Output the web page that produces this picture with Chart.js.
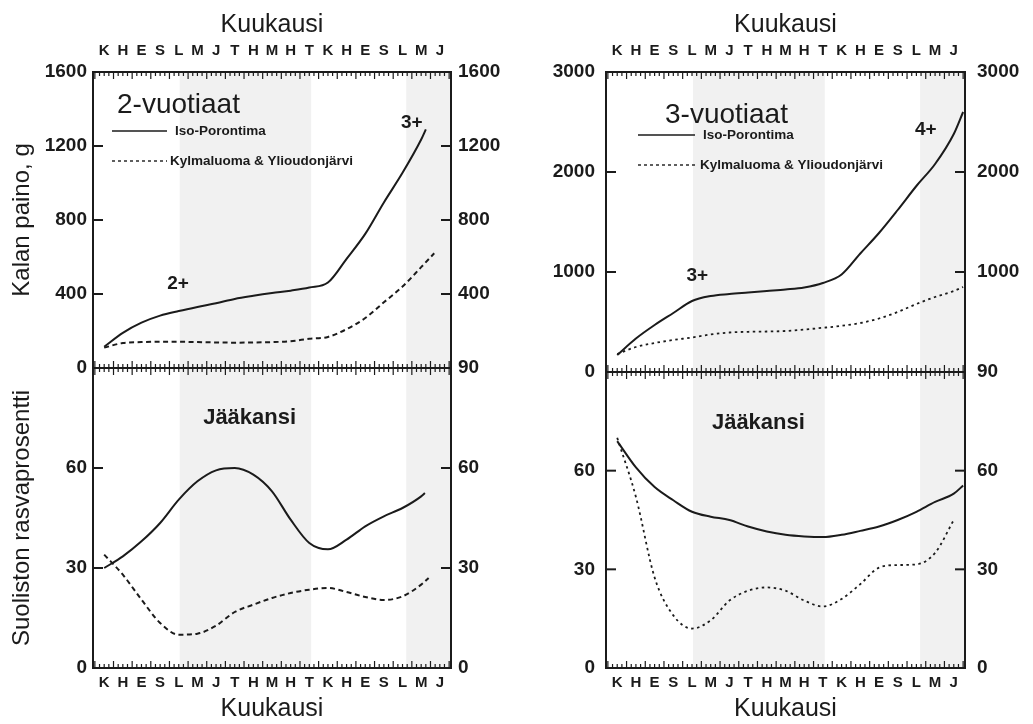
<!DOCTYPE html>
<html><head><meta charset="utf-8">
<script src="https://cdn.jsdelivr.net/npm/chart.js@4.4.0/dist/chart.umd.min.js"></script>
<style>
html,body{margin:0;padding:0;background:#fff;}
body{width:1033px;height:724px;position:relative;overflow:hidden;}
.box{position:absolute;top:0;height:724px;}
#b1{left:0;width:516px;}
#b2{left:516px;width:517px;}
</style>
</head><body>
<div class="box" id="b1"><canvas id="c1"></canvas></div>
<div class="box" id="b2"><canvas id="c2"></canvas></div>
<script>
// ---- Tick labels / categories ----
const monthLabels = ['K','H','E','S','L','M','J','T','H','M','H','T','K','H','E','S','L','M','J'];
const iceCover = [[4.05, 11.1], [16.2, 18.6]];   // ice-cover periods (month index)

// ---- 2-vuotiaat (left) ----
const weight2IsoX = [0,1,2,3,4,5,6,7,8,9,10,11,12,13,14,15,16,17,17.25];
const weight2Iso  = [115,190,245,283,308,330,350,373,390,405,418,435,462,590,725,895,1055,1235,1290];
const weight2KylX = [0,1,2,3,4,5,6,7,8,9,10,11,12,13,14,15,16,17,17.7];
const weight2Kyl  = [110,135,140,142,142,140,138,137,138,140,145,158,168,210,270,355,440,545,620];
const fat2IsoX = [0,1,2,3,4,5,6,7,8,9,10,11,12,13,14,15,16,17,17.2];
const fat2Iso  = [30,33.5,38,43.5,50.5,56,59.3,60,58,53,44.5,37.5,35.6,38.5,42.5,45.5,48,51.5,52.5];
const fat2KylX = [0,1,2,3,4,5,6,7,8,9,10,11,12,13,14,15,16,17,17.4];
const fat2Kyl  = [34,28,20.5,13.5,10,10.3,12.7,16.8,19,21,22.5,23.5,24,22.8,21.3,20.4,21.5,25,27];

// ---- 3-vuotiaat (right) ----
const weight3IsoX = [0,1,2,3,4,5,6,7,8,9,10,11,12,13,14,15,16,17,18,18.5];
const weight3Iso  = [170,335,470,590,710,760,780,795,810,825,845,890,975,1185,1390,1620,1860,2080,2380,2600];
const weight3KylX = [0,1,2,3,4,5,6,7,8,9,10,11,12,13,14,15,16,17,18,18.5];
const weight3Kyl  = [180,250,290,320,345,375,395,402,405,410,425,442,462,490,535,600,680,750,810,850];
const fat3IsoX = [0,1,2,3,4,5,6,7,8,9,10,11,12,13,14,15,16,17,18,18.5];
const fat3Iso  = [69,61,55,51,47.5,46,45,43,41.5,40.5,40,39.8,40.5,41.7,43,45,47.5,50.5,53,55.5];
const fat3KylX = [0,1,2,3,4,5,6,7,8,9,10,11,12,13,14,15,16,17,18];
const fat3Kyl  = [70,52,27.5,16,12,14.5,20.5,23.5,24.5,23.5,20.5,18.7,21,25.5,30.5,31.3,31.5,35,45];

const seriesNames = ['Iso-Porontima', 'Kylmaluoma & Ylioudonjärvi'];

function pts(xs, ys) { return xs.map((x, i) => ({x: x, y: ys[i]})); }

const INK = '#1b1b1b';
const FONT = '"Liberation Sans", Arial, Helvetica, sans-serif';
const xMin = -0.6, xMax = 18.6;

function makeChart(id, o) {
  const tickFont = {family: FONT, size: 19, weight: 'bold'};
  const monthFont = {family: FONT, size: 15, weight: 'bold'};
  const titleFont = {family: FONT, size: 25};

  const xAxis = (pos) => ({
    type: 'linear', position: pos, min: xMin, max: xMax,
    afterBuildTicks: s => { s.ticks = monthLabels.map((_, i) => ({value: i})); },
    ticks: {callback: v => monthLabels[v] !== undefined ? monthLabels[v] : '', font: monthFont, color: INK,
            padding: pos === 'top' ? 12 : 6, autoSkip: false, maxRotation: 0, minRotation: 0},
    grid: {display: false, drawTicks: false},
    border: {display: true, color: INK, width: 2},
    title: {display: true, text: 'Kuukausi', font: titleFont, color: INK,
            padding: pos === 'top' ? {top: 10, bottom: 0} : {top: 0, bottom: 0}},
    afterFit: s => { s.height = pos === 'top' ? 72 : 56; }
  });

  const yAxis = (pos, stack, weight, stackWeight, max, step, hide, title, width, pad) => ({
    type: 'linear', position: pos, stack: stack, weight: weight, stackWeight: stackWeight,
    min: 0, max: max,
    ticks: {stepSize: step, font: tickFont, color: INK, padding: pad, autoSkip: false,
            callback: v => hide.includes(v) ? '' : String(v)},
    grid: {display: false, drawTicks: false},
    border: {display: true, color: INK, width: 2},
    title: title ? {display: true, text: title, font: {family: FONT, size: 24}, color: INK, padding: {top: 8, bottom: 0}}
                 : {display: false},
    afterFit: s => { s.width = width; }
  });

  const line = (data, axis, dash, w) => ({
    data: data, yAxisID: axis, borderColor: INK, borderWidth: w, borderDash: dash,
    pointRadius: 0, fill: false, cubicInterpolationMode: 'monotone', clip: 4
  });

  const deco = {
    id: 'deco_' + id,
    beforeDraw(chart) {
      const {ctx, chartArea: a, scales} = chart;
      ctx.save();
      ctx.fillStyle = '#f1f1f1';
      iceCover.forEach(([s, e]) => {
        const x0 = Math.max(a.left, scales.x.getPixelForValue(s));
        const x1 = Math.min(a.right, scales.x.getPixelForValue(e));
        ctx.fillRect(x0, a.top, x1 - x0, a.bottom - a.top);
      });
      ctx.restore();
    },
    afterDatasetsDraw(chart) {
      const {ctx, chartArea: a, scales} = chart;
      const xs = scales.x;
      const midY = scales.wL.getPixelForValue(0);
      ctx.save();
      ctx.strokeStyle = INK;
      // middle divider
      ctx.lineWidth = 2;
      ctx.beginPath(); ctx.moveTo(a.left, midY); ctx.lineTo(a.right, midY); ctx.stroke();
      // weekly / monthly ticks
      ctx.lineWidth = 1.2;
      for (let k = 0; k <= 76; k++) {
        const v = -0.5 + k * 0.25;
        const px = xs.getPixelForValue(v);
        if (px < a.left + 1 || px > a.right - 1) continue;
        const major = (k % 4 === 0);
        const L = major ? 7 : 4;
        ctx.beginPath();
        ctx.moveTo(px, a.top); ctx.lineTo(px, a.top + L);
        ctx.moveTo(px, a.bottom); ctx.lineTo(px, a.bottom - L);
        ctx.moveTo(px, midY - L); ctx.lineTo(px, midY + L);
        ctx.stroke();
      }
      // inward y ticks
      ctx.lineWidth = 2;
      [['wL', a.left, 10], ['fL', a.left, 10], ['wR', a.right, -10], ['fR', a.right, -10]].forEach(([sid, x0, d]) => {
        const sc = scales[sid];
        sc.ticks.forEach(t => {
          if (t.value <= sc.min || t.value >= sc.max) return;
          const py = sc.getPixelForValue(t.value);
          ctx.beginPath(); ctx.moveTo(x0, py); ctx.lineTo(x0 + d, py); ctx.stroke();
        });
      });
      ctx.fillStyle = INK;
      ctx.textBaseline = 'middle';
      // panel title
      ctx.font = '28px ' + FONT;
      ctx.textAlign = 'left';
      ctx.fillText(o.title, a.left + o.titleDx, a.top + o.titleDy);
      // legend
      const lg = o.legend;
      ctx.font = 'bold 13.5px ' + FONT;
      chart.data.datasets.slice(0, 2).forEach((ds, i) => {
        const y = a.top + lg.rows[i];
        ctx.save();
        ctx.lineWidth = i === 0 ? 1.6 : 1.4;
        ctx.setLineDash(i === 0 ? [] : [3, 3]);
        ctx.beginPath(); ctx.moveTo(a.left + lg.x0, y); ctx.lineTo(a.left + lg.x1, y); ctx.stroke();
        ctx.restore();
        ctx.fillText(seriesNames[i], a.left + lg.tx[i], y);
      });
      // data-anchored notes
      ctx.textAlign = 'center';
      o.notes.forEach(n => {
        ctx.font = n.font + ' ' + FONT;
        ctx.fillText(n.text, xs.getPixelForValue(n.x), scales[n.axis].getPixelForValue(n.y));
      });
      ctx.restore();
    }
  };

  return new Chart(document.getElementById(id), {
    type: 'line',
    data: {
      datasets: [
        line(o.wIso, 'wL', [], 2),
        line(o.wKyl, 'wL', o.dash, o.dashW),
        line(o.fIso, 'fL', [], 2),
        line(o.fKyl, 'fL', o.dash, o.dashW)
      ]
    },
    options: {
      responsive: true, maintainAspectRatio: false, animation: false,
      layout: {padding: 0},
      plugins: {legend: {display: false}, tooltip: {enabled: false}, title: {display: false}},
      scales: {
        x: xAxis('bottom'),
        xTop: xAxis('top'),
        wL: yAxis('left', 'L', 1, o.upW, o.wMax, o.wStep, [], o.yTitles ? 'Kalan paino, g' : '', o.leftW, o.padL),
        fL: yAxis('left', 'L', 0, o.loW, 90, 30, [90], o.yTitles ? 'Suoliston rasvaprosentti' : '', o.leftW, o.padL),
        wR: yAxis('right', 'R', 0, o.upW, o.wMax, o.wStep, [0], '', o.rightW, o.padR),
        fR: yAxis('right', 'R', 1, o.loW, 90, 30, [], '', o.rightW, o.padR)
      }
    },
    plugins: [deco]
  });
}

makeChart('c1', {
  wIso: pts(weight2IsoX, weight2Iso), wKyl: pts(weight2KylX, weight2Kyl),
  fIso: pts(fat2IsoX, fat2Iso), fKyl: pts(fat2KylX, fat2Kyl),
  dash: [5, 3.5], dashW: 2,
  wMax: 1600, wStep: 400, upW: 296, loW: 300,
  leftW: 93, rightW: 65, padL: 6, padR: 7, yTitles: true,
  title: '2-vuotiaat', titleDx: 24, titleDy: 33,
  legend: {x0: 19, x1: 74, rows: [59, 89], tx: [82, 77]},
  notes: [
    {text: '2+', x: 3.96, y: 454, axis: 'wL', font: 'bold 19px'},
    {text: '3+', x: 16.5, y: 1324, axis: 'wL', font: 'bold 19px'},
    {text: 'Jääkansi', x: 7.8, y: 75, axis: 'fL', font: 'bold 22px'}
  ]
});

makeChart('c2', {
  wIso: pts(weight3IsoX, weight3Iso), wKyl: pts(weight3KylX, weight3Kyl),
  fIso: pts(fat3IsoX, fat3Iso), fKyl: pts(fat3KylX, fat3Kyl),
  dash: [2.5, 3.5], dashW: 1.8,
  wMax: 3000, wStep: 1000, upW: 300, loW: 296,
  leftW: 90, rightW: 68, padL: 11, padR: 12, yTitles: false,
  title: '3-vuotiaat', titleDx: 59, titleDy: 43,
  legend: {x0: 32, x1: 89, rows: [63, 93], tx: [97, 94]},
  notes: [
    {text: '3+', x: 4.28, y: 960, axis: 'wL', font: 'bold 19px'},
    {text: '4+', x: 16.5, y: 2420, axis: 'wL', font: 'bold 19px'},
    {text: 'Jääkansi', x: 7.55, y: 74.5, axis: 'fL', font: 'bold 22px'}
  ]
});
</script>
</body></html>
